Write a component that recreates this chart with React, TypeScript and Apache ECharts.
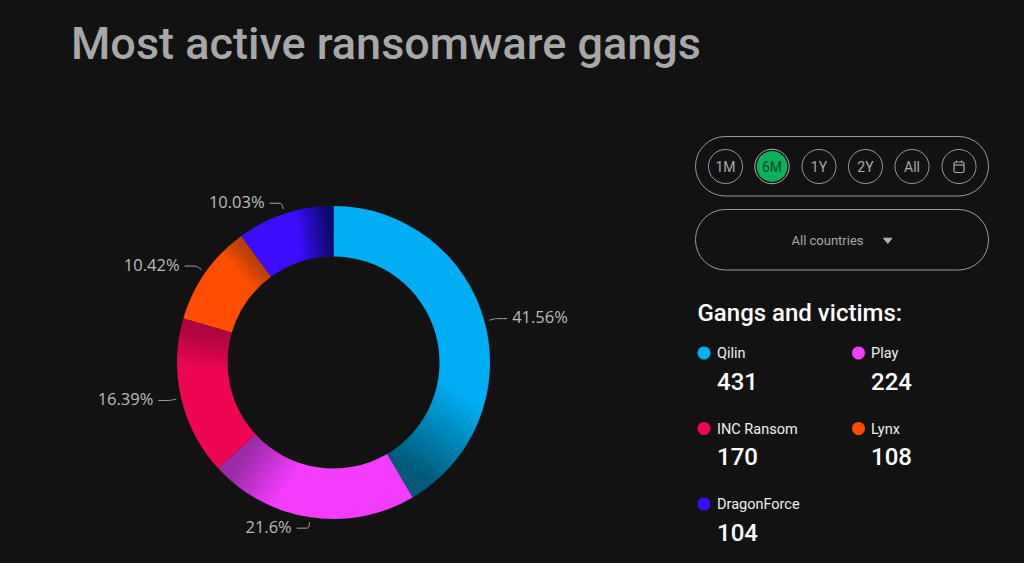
import React, { useEffect, useRef } from "react";
import * as echarts from "echarts";

const categories = ["Qilin", "Play", "INC Ransom", "Lynx", "DragonForce"];
const victims = [431, 224, 170, 108, 104];
const percentLabels = ["41.56%", "21.6%", "16.39%", "10.42%", "10.03%"];
const brightColors = ["#00aef5", "#f43cff", "#ee0652", "#ff4d00", "#3d0cff"];
const darkColors = ["#005a78", "#9a2aa6", "#ad053f", "#b83f08", "#0d0a6e"];
// clockwise degrees from 12 o'clock at which each slice starts to fade
const fadeStart = [103, 200, 266, 313, 344];
const periods = ["1M", "6M", "1Y", "2Y", "All"];

const BG = "#121212";
const CX = 333.5;
const CY = 362.5;
const RO = 156.5;
const RI = 106;

const polar = (deg: number, r: number) => {
  const a = (deg * Math.PI) / 180;
  return [CX + r * Math.sin(a), CY - r * Math.cos(a)];
};

function sliceData() {
  const total = victims.reduce((s, v) => s + v, 0);
  let start = 0;
  return victims.map((v, i) => {
    const end = start + (v / total) * 360;
    const [x, y] = polar(fadeStart[i], (RO + RI) / 2);
    const [x2, y2] = polar(end, (RO + RI) / 2);
    start = end;
    return {
      name: categories[i],
      value: v,
      itemStyle: {
        color: {
          type: "linear",
          global: true,
          x,
          y,
          x2,
          y2,
          colorStops: [
            { offset: 0, color: brightColors[i] },
            { offset: 0.88, color: darkColors[i] },
            { offset: 1, color: darkColors[i] },
          ],
        },
      },
      label: { formatter: percentLabels[i] },
    };
  });
}

function panelGraphics() {
  const stroke = "#9c9c9c";
  const els: any[] = [];
  const pill = (y: number, h: number) => ({
    type: "rect",
    shape: { x: 695.5, y, width: 293, height: h, r: 30 },
    style: { fill: "transparent", stroke, lineWidth: 1 },
  });
  els.push(pill(136.5, 59.5), pill(209.5, 60.5));
  const xs = [725.5, 772, 819, 865.5, 912, 959];
  periods.forEach((p, i) => {
    const active = p === "6M";
    if (active) {
      els.push({
        type: "circle",
        shape: { cx: xs[i], cy: 166.5, r: 17.2 },
        style: { fill: BG, stroke: "#b5b5b5", lineWidth: 1 },
      });
    }
    els.push({
      type: "circle",
      shape: { cx: xs[i], cy: 166.5, r: active ? 15.4 : 17 },
      style: { fill: active ? "#0bb05a" : "transparent", stroke: active ? "none" : stroke, lineWidth: 1 },
    });
    els.push({
      type: "text",
      x: xs[i],
      y: 166.5,
      style: {
        text: p,
        fontFamily: "Roboto",
        fontSize: 14,
        fill: active ? "#0d4a2a" : "#a8a8a8",
        align: "center",
        verticalAlign: "middle",
      },
    });
  });
  els.push({
    type: "circle",
    shape: { cx: xs[5], cy: 166.5, r: 17 },
    style: { fill: "transparent", stroke, lineWidth: 1 },
  });
  els.push({
    type: "rect",
    shape: { x: 954, y: 162, width: 10, height: 10.5, r: 1.5 },
    style: { fill: "transparent", stroke: "#a8a8a8", lineWidth: 1.2 },
  });
  els.push({
    type: "line",
    shape: { x1: 954, y1: 165, x2: 964, y2: 165 },
    style: { stroke: "#a8a8a8", lineWidth: 1.2 },
  });
  [956.5, 961.5].forEach((x) =>
    els.push({
      type: "line",
      shape: { x1: x, y1: 160.5, x2: x, y2: 162.5 },
      style: { stroke: "#a8a8a8", lineWidth: 1 },
    })
  );
  els.push({
    type: "text",
    x: 827.5,
    y: 240,
    style: {
      text: "All countries",
      fontFamily: "Roboto",
      fontSize: 13,
      fill: "#a8a8a8",
      align: "center",
      verticalAlign: "middle",
    },
  });
  els.push({
    type: "polygon",
    shape: { points: [[883.5, 238.2], [892, 238.2], [887.75, 243.4]] },
    style: { fill: "#b4b4b4", stroke: "#b4b4b4", lineWidth: 1, lineJoin: "round" },
  });
  els.push({
    type: "text",
    x: 697.5,
    y: 313,
    style: {
      text: "Gangs and victims:",
      fontFamily: "Roboto",
      fontWeight: 500,
      fontSize: 24,
      fill: "#ffffff",
      verticalAlign: "middle",
    },
  });
  categories.forEach((name, i) => {
    const col = i % 2;
    const row = Math.floor(i / 2);
    const dotX = col === 0 ? 704 : 858.5;
    const textX = col === 0 ? 717 : 871;
    const y = 353 + row * 75.5;
    els.push({
      type: "circle",
      shape: { cx: dotX, cy: y, r: 6.5 },
      style: { fill: brightColors[i] },
    });
    els.push({
      type: "text",
      x: textX,
      y: y + 0.5,
      style: { text: name, fontFamily: "Roboto", fontSize: 14.5, fill: "#f0f0f0", verticalAlign: "middle" },
    });
    els.push({
      type: "text",
      x: textX,
      y: y + 28.5,
      style: {
        text: String(victims[i]),
        fontFamily: "Roboto",
        fontWeight: 500,
        fontSize: 24,
        fill: "#ffffff",
        verticalAlign: "middle",
      },
    });
  });
  return els;
}

// Pull the start of each leader line 5px away from the ring and lift the text to the line.
function detachLeader(params: any) {
  const pts = params.labelLinePoints;
  if (!pts) return {};
  const dx = pts[0][0] - CX;
  const dy = pts[0][1] - CY;
  const len = Math.hypot(dx, dy) || 1;
  return {
    dy: -2,
    labelLinePoints: [
      [pts[0][0] + (dx / len) * 5, pts[0][1] + (dy / len) * 5],
      pts[1],
      pts[2],
    ],
  };
}

export default function App() {
  const ref = useRef<HTMLDivElement>(null);
  useEffect(() => {
    document.body.style.margin = "0";
    document.body.style.background = BG;
    const chart = echarts.init(ref.current!, undefined, { renderer: "svg" });
    chart.setOption({
      animation: false,
      backgroundColor: BG,
      title: {
        text: "Most active ransomware gangs",
        left: 66,
        top: 16,
        textStyle: { color: "#a8a8a8", fontFamily: "Roboto", fontWeight: 500, fontSize: 45 },
      },
      series: [
        {
          type: "pie",
          center: [CX, CY],
          radius: [RI, RO],
          startAngle: 90,
          clockwise: true,
          avoidLabelOverlap: false,
          data: sliceData(),
          label: {
            show: true,
            color: "#bcbcbc",
            fontFamily: "Open Sans",
            fontSize: 16.5,
          },
          labelLine: {
            show: true,
            length: 11,
            length2: 12,
            smooth: 0.2,
            lineStyle: { color: "#a8a8a8", width: 1 },
          },
          labelLayout: detachLeader,
          emphasis: { disabled: true },
        },
      ],
      graphic: panelGraphics(),
    });
    return () => chart.dispose();
  }, []);
  return <div ref={ref} style={{ position: "absolute", left: 0, top: 0, width: 1024, height: 563 }} />;
}
